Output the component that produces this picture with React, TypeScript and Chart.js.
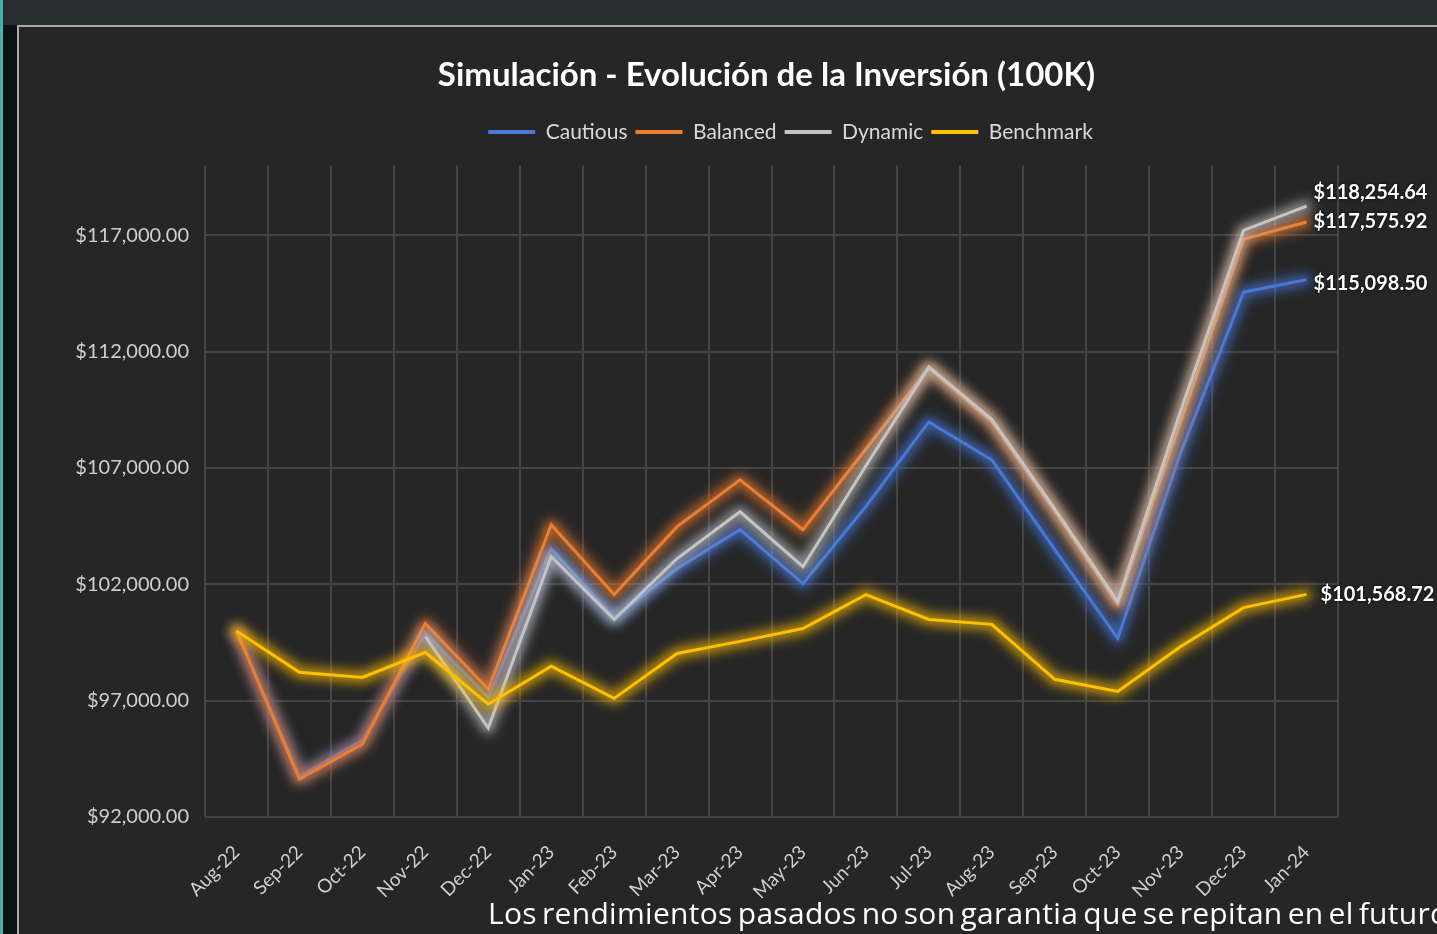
import React, { useEffect, useRef } from 'react';
import { Chart, registerables } from 'chart.js';

Chart.register(...registerables);

const months = ['Aug-22', 'Sep-22', 'Oct-22', 'Nov-22', 'Dec-22', 'Jan-23', 'Feb-23', 'Mar-23', 'Apr-23', 'May-23', 'Jun-23', 'Jul-23', 'Aug-23', 'Sep-23', 'Oct-23', 'Nov-23', 'Dec-23', 'Jan-24'];

const cautious = [100000, 93750, 95300, 99900, 97150, 103530, 100550, 102680, 104350, 102030, 105350, 108980, 107350, 103500, 99680, 107650, 114560, 115098.5];
const balanced = [100000, 93630, 95130, 100320, 97490, 104560, 101560, 104480, 106490, 104350, 107820, 111300, 109000, 105150, 101150, 109000, 116830, 117575.92];
const dynamic = [null, null, null, 99760, 95820, 103200, 100490, 103110, 105120, 102760, 107100, 111340, 109100, 105250, 101260, 109450, 117214, 118254.64];
const benchmark = [100000, 98220, 98000, 99080, 96850, 98480, 97100, 99030, 99550, 100100, 101560, 100490, 100280, 97920, 97400, 99330, 101000, 101568.72];

const seriesNames = ['Cautious', 'Balanced', 'Dynamic', 'Benchmark'];
const seriesColors = ['#4878D8', '#ED7D31', '#C4C4C4', '#FFC000'];
const seriesValues = [cautious, balanced, dynamic, benchmark];
const drawOrder = [3, 2, 1, 0];

const yTickValues = [92000, 97000, 102000, 107000, 112000, 117000];
const yMin = 92000;
const yMax = 120000;

const titleText = 'Simulación - Evolución de la Inversión (100K)';
const footerText = 'Los rendimientos pasados no son garantia que se repitan en el futuro';

const fmt = (v: number) =>
  '$' + Number(v).toLocaleString('en-US', { minimumFractionDigits: 2, maximumFractionDigits: 2 });

const hexA = (hex: string, a: number) => {
  const h = hex.replace('#', '');
  const r = parseInt(h.slice(0, 2), 16);
  const g = parseInt(h.slice(2, 4), 16);
  const b = parseInt(h.slice(4, 6), 16);
  return `rgba(${r},${g},${b},${a})`;
};

const glowPlugin = {
  id: 'glow',
  beforeDatasetDraw(chart: any, args: any) {
    const ctx = chart.ctx;
    const c = chart.data.datasets[args.index].borderColor;
    const pts = args.meta.data;
    ctx.save();
    ctx.filter = 'blur(6px)';
    ctx.strokeStyle = hexA(c, 0.5);
    ctx.lineWidth = 14;
    ctx.lineJoin = 'round';
    ctx.lineCap = 'round';
    ctx.beginPath();
    let started = false;
    pts.forEach((p: any) => {
      if (p.skip || !isFinite(p.y)) {
        started = false;
        return;
      }
      if (started) ctx.lineTo(p.x, p.y);
      else ctx.moveTo(p.x, p.y);
      started = true;
    });
    ctx.stroke();
    ctx.restore();
    ctx.save();
    ctx.shadowColor = hexA(c, 0.8);
    ctx.shadowBlur = 8;
  },
  afterDatasetDraw(chart: any) {
    chart.ctx.restore();
  },
};

const endLabelOffsets = [
  { dx: 7, dy: 4 },
  { dx: 7, dy: 0 },
  { dx: 7, dy: -14 },
  { dx: 14, dy: 0 },
];

const endLabelPlugin = {
  id: 'endLabels',
  afterDatasetsDraw(chart: any) {
    const ctx = chart.ctx;
    chart.data.datasets.forEach((ds: any, i: number) => {
      const meta = chart.getDatasetMeta(i);
      const pt = meta.data[meta.data.length - 1];
      const v = ds.data[ds.data.length - 1];
      const off = endLabelOffsets[i];
      ctx.save();
      ctx.font = 'bold 20px Lato';
      ctx.fillStyle = '#ffffff';
      ctx.textAlign = 'left';
      ctx.textBaseline = 'middle';
      ctx.shadowColor = 'rgba(0,0,0,0.9)';
      ctx.shadowBlur = 3;
      ctx.fillText(fmt(v), pt.x + off.dx, pt.y + off.dy);
      ctx.restore();
    });
  },
};

const titleShift = 88;
const legendShift = 112;

const headerPlugin = {
  id: 'headerShift',
  beforeInit(chart: any) {
    const orig = chart.legend.fit;
    chart.legend.fit = function () {
      orig.call(this);
      this.height += 13;
    };
  },
  afterLayout(chart: any) {
    if (chart.titleBlock) {
      chart.titleBlock.left += titleShift;
      chart.titleBlock.right += titleShift;
    }
    if (chart.legend) {
      chart.legend.left += legendShift;
      chart.legend.right += legendShift;
    }
  },
};

export default function App() {
  const ref = useRef<HTMLCanvasElement>(null);

  useEffect(() => {
    let chart: Chart | null = null;
    let cancelled = false;
    const make = () => {
      if (cancelled || !ref.current) return;
      chart = new Chart(ref.current, {
        type: 'line',
        data: {
          labels: months,
          datasets: seriesNames.map((name, i) => ({
            label: name,
            data: seriesValues[i],
            borderColor: seriesColors[i],
            backgroundColor: seriesColors[i],
            borderWidth: 3,
            pointRadius: 0,
            tension: 0,
            fill: false,
            order: drawOrder[i],
          })),
        },
        options: {
          animation: false,
          responsive: true,
          maintainAspectRatio: false,
          layout: { padding: { left: 0, right: 99, top: 0, bottom: 0 } },
          plugins: {
            tooltip: { enabled: false },
            title: {
              display: true,
              text: titleText,
              color: '#ffffff',
              font: { family: 'Lato', size: 33, weight: 'bold' },
              padding: { top: 29, bottom: 18 },
            },
            legend: {
              display: true,
              labels: {
                color: '#d9d9d9',
                font: { family: 'Lato', size: 21 },
                boxWidth: 47,
                boxHeight: 4,
                padding: 8,
                sort: (a: any, b: any) => a.datasetIndex - b.datasetIndex,
                generateLabels: (chart: any) => {
                  const items = Chart.defaults.plugins.legend.labels.generateLabels(chart);
                  return items.map((it: any) => ({
                    ...it,
                    fillStyle: seriesColors[it.datasetIndex],
                    strokeStyle: seriesColors[it.datasetIndex],
                    lineWidth: 0,
                  }));
                },
              },
            },
          },
          scales: {
            x: {
              offset: true,
              grid: { offset: true, color: '#444444', lineWidth: 2, drawTicks: false },
              border: { display: false },
              ticks: {
                color: '#cfcfcf',
                font: { family: 'Lato', size: 19 },
                minRotation: 45,
                maxRotation: 45,
                autoSkip: false,
                padding: 24,
              },
              afterFit: (s: any) => {
                s.height = 117;
              },
            },
            y: {
              min: yMin,
              max: yMax,
              afterBuildTicks: (s: any) => {
                s.ticks = yTickValues.map((v) => ({ value: v }));
              },
              grid: { color: '#444444', lineWidth: 2, drawTicks: false },
              border: { display: false },
              ticks: {
                color: '#cfcfcf',
                font: { family: 'Lato', size: 20 },
                padding: 16,
                callback: (v: any) => fmt(Number(v)),
              },
              afterFit: (s: any) => {
                s.width = 186;
              },
            },
          },
        },
        plugins: [glowPlugin, endLabelPlugin, headerPlugin],
      });
    };
    const fonts: any = (document as any).fonts;
    if (fonts && fonts.load) {
      Promise.all([
        fonts.load('18px Lato'),
        fonts.load('bold 18px Lato'),
        fonts.load('500 30px "Open Sans"'),
      ])
        .catch(() => null)
        .then(make);
    } else {
      make();
    }
    return () => {
      cancelled = true;
      if (chart) chart.destroy();
    };
  }, []);

  return (
    <div
      style={{
        position: 'fixed',
        left: 0,
        top: 0,
        width: 1437,
        height: 934,
        background: '#272c2f',
        overflow: 'hidden',
      }}
    >
      <div style={{ position: 'absolute', left: 0, top: 0, width: 3, height: 934, background: '#45b3ad' }} />
      <div style={{ position: 'absolute', left: 3, top: 25, width: 14, height: 909, background: '#0e1213' }} />
      <div
        style={{
          position: 'absolute',
          left: 17,
          top: 25,
          width: 1420,
          height: 909,
          boxSizing: 'border-box',
          borderTop: '2px solid #a8a8a8',
          borderLeft: '2px solid #a8a8a8',
          background: '#262626',
        }}
      >
        <div style={{ position: 'relative', width: 1418, height: 907 }}>
          <canvas ref={ref} />
        </div>
      </div>
      <div
        style={{
          position: 'absolute',
          left: 488,
          top: 896,
          whiteSpace: 'nowrap',
          color: '#ffffff',
          fontFamily: '"Open Sans", sans-serif',
          fontWeight: 500,
          fontSize: 30,
          lineHeight: '34px',
          letterSpacing: '0.3px',
          wordSpacing: '-3px',
        }}
      >
        {footerText}
      </div>
    </div>
  );
}
